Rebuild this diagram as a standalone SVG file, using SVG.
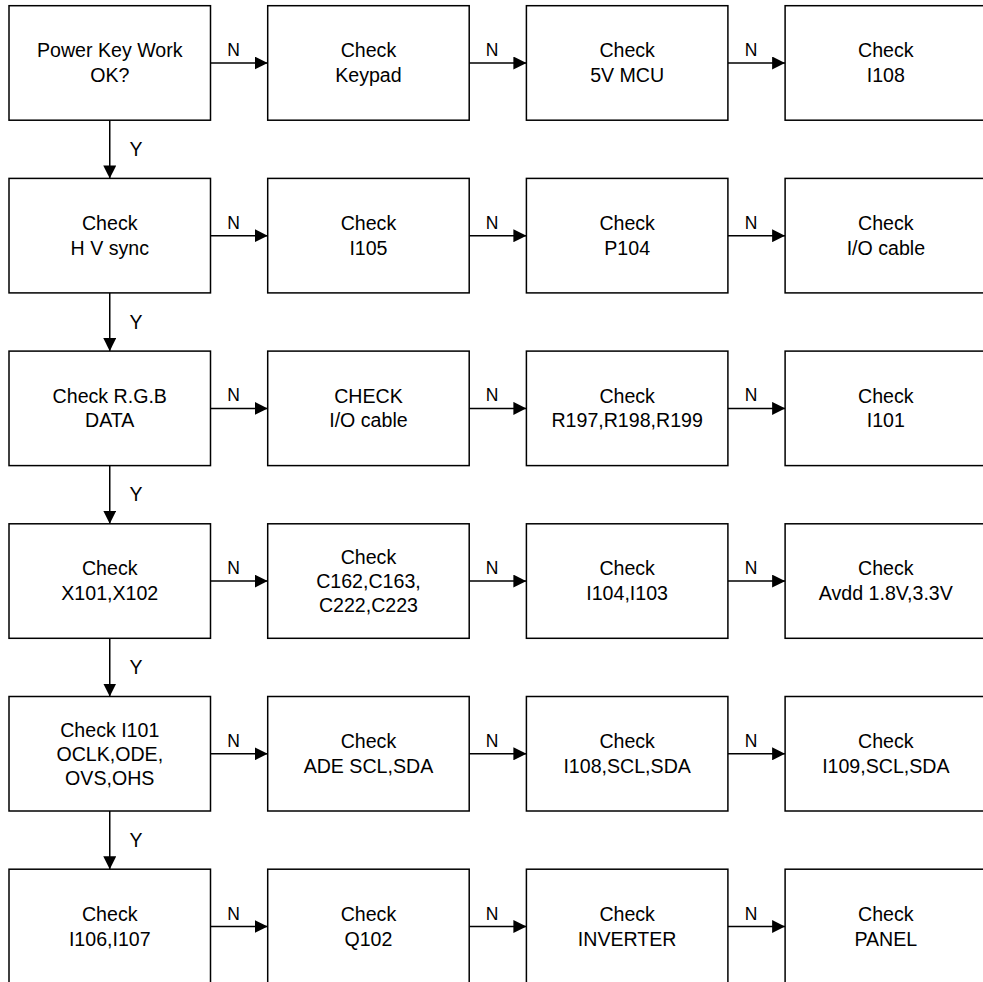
<svg xmlns="http://www.w3.org/2000/svg" width="983" height="982" viewBox="0 0 983 982">
<style>
.box rect{fill:#fff;stroke:#000;stroke-width:1.5}
.box text{font-family:"Liberation Sans",Arial,sans-serif;font-size:19.6px;fill:#000;text-anchor:middle}
.lbl{font-family:"Liberation Sans",Arial,sans-serif;font-size:17.5px;fill:#000;text-anchor:middle}
.lbl .y{font-size:19.5px}
.conn line{stroke:#000;stroke-width:1.5;marker-end:url(#ah)}
</style>
<defs>
<marker id="ah" markerUnits="userSpaceOnUse" markerWidth="13" markerHeight="13" refX="13" refY="6.5" orient="auto">
<path d="M0,0 L13,6.5 L0,13 z" fill="#000"/>
</marker>
</defs>
<rect width="983" height="982" fill="#fff"/>
<g id="connectors" class="conn">
<line x1="210.5" y1="63" x2="267.7" y2="63"/><line x1="469.2" y1="63" x2="526.4" y2="63"/><line x1="727.9" y1="63" x2="785.1" y2="63"/>
<line x1="210.5" y1="235.7" x2="267.7" y2="235.7"/><line x1="469.2" y1="235.7" x2="526.4" y2="235.7"/><line x1="727.9" y1="235.7" x2="785.1" y2="235.7"/>
<line x1="210.5" y1="408.4" x2="267.7" y2="408.4"/><line x1="469.2" y1="408.4" x2="526.4" y2="408.4"/><line x1="727.9" y1="408.4" x2="785.1" y2="408.4"/>
<line x1="210.5" y1="581.1" x2="267.7" y2="581.1"/><line x1="469.2" y1="581.1" x2="526.4" y2="581.1"/><line x1="727.9" y1="581.1" x2="785.1" y2="581.1"/>
<line x1="210.5" y1="753.8" x2="267.7" y2="753.8"/><line x1="469.2" y1="753.8" x2="526.4" y2="753.8"/><line x1="727.9" y1="753.8" x2="785.1" y2="753.8"/>
<line x1="210.5" y1="926.5" x2="267.7" y2="926.5"/><line x1="469.2" y1="926.5" x2="526.4" y2="926.5"/><line x1="727.9" y1="926.5" x2="785.1" y2="926.5"/>
<line x1="109.75" y1="120.2" x2="109.75" y2="178.4"/>
<line x1="109.75" y1="292.9" x2="109.75" y2="351.1"/>
<line x1="109.75" y1="465.6" x2="109.75" y2="523.8"/>
<line x1="109.75" y1="638.3" x2="109.75" y2="696.5"/>
<line x1="109.75" y1="811" x2="109.75" y2="869.2"/>
<g class="lbl">
<text x="233.5" y="56">N</text><text x="492" y="56">N</text><text x="751" y="56">N</text>
<text x="233.5" y="228.7">N</text><text x="492" y="228.7">N</text><text x="751" y="228.7">N</text>
<text x="233.5" y="401.4">N</text><text x="492" y="401.4">N</text><text x="751" y="401.4">N</text>
<text x="233.5" y="574.1">N</text><text x="492" y="574.1">N</text><text x="751" y="574.1">N</text>
<text x="233.5" y="746.8">N</text><text x="492" y="746.8">N</text><text x="751" y="746.8">N</text>
<text x="233.5" y="919.5">N</text><text x="492" y="919.5">N</text><text x="751" y="919.5">N</text>
<text class="y" x="136" y="156">Y</text>
<text class="y" x="136" y="328.7">Y</text>
<text class="y" x="136" y="501.4">Y</text>
<text class="y" x="136" y="674.1">Y</text>
<text class="y" x="136" y="846.8">Y</text>
</g>
</g>
<g id="r1c1" class="box"><rect x="9" y="5.7" width="201.5" height="114.5"/><text x="109.75" y="57.2">Power Key Work</text><text x="109.75" y="82">OK?</text></g>
<g id="r1c2" class="box"><rect x="267.7" y="5.7" width="201.5" height="114.5"/><text x="368.45" y="57.2">Check</text><text x="368.45" y="82">Keypad</text></g>
<g id="r1c3" class="box"><rect x="526.4" y="5.7" width="201.5" height="114.5"/><text x="627.15" y="57.2">Check</text><text x="627.15" y="82">5V MCU</text></g>
<g id="r1c4" class="box"><rect x="785.1" y="5.7" width="201.5" height="114.5"/><text x="885.85" y="57.2">Check</text><text x="885.85" y="82">I108</text></g>
<g id="r2c1" class="box"><rect x="9" y="178.4" width="201.5" height="114.5"/><text x="109.75" y="229.9">Check</text><text x="109.75" y="254.7">H V sync</text></g>
<g id="r2c2" class="box"><rect x="267.7" y="178.4" width="201.5" height="114.5"/><text x="368.45" y="229.9">Check</text><text x="368.45" y="254.7">I105</text></g>
<g id="r2c3" class="box"><rect x="526.4" y="178.4" width="201.5" height="114.5"/><text x="627.15" y="229.9">Check</text><text x="627.15" y="254.7">P104</text></g>
<g id="r2c4" class="box"><rect x="785.1" y="178.4" width="201.5" height="114.5"/><text x="885.85" y="229.9">Check</text><text x="885.85" y="254.7">I/O cable</text></g>
<g id="r3c1" class="box"><rect x="9" y="351.1" width="201.5" height="114.5"/><text x="109.75" y="402.9">Check R.G.B</text><text x="109.75" y="427">DATA</text></g>
<g id="r3c2" class="box"><rect x="267.7" y="351.1" width="201.5" height="114.5"/><text x="368.45" y="402.9">CHECK</text><text x="368.45" y="427">I/O cable</text></g>
<g id="r3c3" class="box"><rect x="526.4" y="351.1" width="201.5" height="114.5"/><text x="627.15" y="402.9">Check</text><text x="627.15" y="427">R197,R198,R199</text></g>
<g id="r3c4" class="box"><rect x="785.1" y="351.1" width="201.5" height="114.5"/><text x="885.85" y="402.9">Check</text><text x="885.85" y="427">I101</text></g>
<g id="r4c1" class="box"><rect x="9" y="523.8" width="201.5" height="114.5"/><text x="109.75" y="575.3">Check</text><text x="109.75" y="600.1">X101,X102</text></g>
<g id="r4c2" class="box"><rect x="267.7" y="523.8" width="201.5" height="114.5"/><text x="368.45" y="564.1">Check</text><text x="368.45" y="588.1">C162,C163,</text><text x="368.45" y="612.1">C222,C223</text></g>
<g id="r4c3" class="box"><rect x="526.4" y="523.8" width="201.5" height="114.5"/><text x="627.15" y="575.3">Check</text><text x="627.15" y="600.1">I104,I103</text></g>
<g id="r4c4" class="box"><rect x="785.1" y="523.8" width="201.5" height="114.5"/><text x="885.85" y="575.3">Check</text><text x="885.85" y="600.1">Avdd 1.8V,3.3V</text></g>
<g id="r5c1" class="box"><rect x="9" y="696.5" width="201.5" height="114.5"/><text x="109.75" y="736.5">Check I101</text><text x="109.75" y="760.5">OCLK,ODE,</text><text x="109.75" y="784.5">OVS,OHS</text></g>
<g id="r5c2" class="box"><rect x="267.7" y="696.5" width="201.5" height="114.5"/><text x="368.45" y="748">Check</text><text x="368.45" y="772.8">ADE SCL,SDA</text></g>
<g id="r5c3" class="box"><rect x="526.4" y="696.5" width="201.5" height="114.5"/><text x="627.15" y="748">Check</text><text x="627.15" y="772.8">I108,SCL,SDA</text></g>
<g id="r5c4" class="box"><rect x="785.1" y="696.5" width="201.5" height="114.5"/><text x="885.85" y="748">Check</text><text x="885.85" y="772.8">I109,SCL,SDA</text></g>
<g id="r6c1" class="box"><rect x="9" y="869.2" width="201.5" height="114.5"/><text x="109.75" y="920.7">Check</text><text x="109.75" y="945.5">I106,I107</text></g>
<g id="r6c2" class="box"><rect x="267.7" y="869.2" width="201.5" height="114.5"/><text x="368.45" y="920.7">Check</text><text x="368.45" y="945.5">Q102</text></g>
<g id="r6c3" class="box"><rect x="526.4" y="869.2" width="201.5" height="114.5"/><text x="627.15" y="920.7">Check</text><text x="627.15" y="945.5">INVERTER</text></g>
<g id="r6c4" class="box"><rect x="785.1" y="869.2" width="201.5" height="114.5"/><text x="885.85" y="920.7">Check</text><text x="885.85" y="945.5">PANEL</text></g>
</svg>
